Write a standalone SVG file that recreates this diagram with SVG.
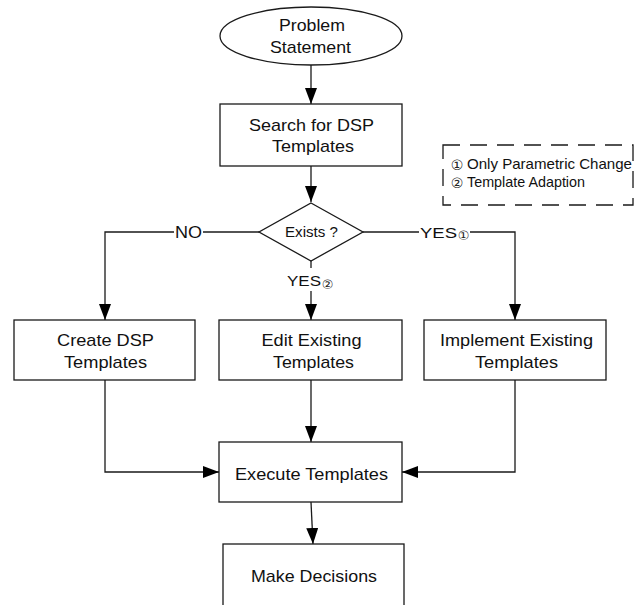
<svg xmlns="http://www.w3.org/2000/svg" width="641" height="605" viewBox="0 0 641 605">
<style>
.shape{fill:#fff;stroke:#1a1a1a;stroke-width:1.3}
.t{font-family:"Liberation Sans",Arial,sans-serif;font-size:17px;fill:#111;text-anchor:middle}
.s{font-family:"Liberation Sans",Arial,sans-serif;font-size:15px;fill:#111}
.c{font-family:"DejaVu Sans","Noto Sans CJK SC",sans-serif;fill:#222;text-anchor:middle}
.ln{fill:none;stroke:#1a1a1a;stroke-width:1.3}
</style>
<defs>
<marker id="ah" markerUnits="userSpaceOnUse" markerWidth="17" markerHeight="13" refX="16" refY="6" orient="auto">
<path d="M0,0 L16,6 L0,12 z" fill="#000"/>
</marker>
</defs>
<rect width="641" height="605" fill="#fff"/>
<g id="connectors">
<line class="ln" x1="311" y1="65" x2="311" y2="104" marker-end="url(#ah)"/>
<line class="ln" x1="311" y1="166" x2="311" y2="202" marker-end="url(#ah)"/>
<line class="ln" x1="259" y1="232" x2="203" y2="232"/>
<polyline class="ln" points="174,232 105,232 105,320" marker-end="url(#ah)"/>
<line class="ln" x1="363" y1="232" x2="419" y2="232"/>
<polyline class="ln" points="470,232 515,232 515,320" marker-end="url(#ah)"/>
<line class="ln" x1="311" y1="260" x2="311" y2="268"/>
<line class="ln" x1="311" y1="291" x2="311" y2="320" marker-end="url(#ah)"/>
<polyline class="ln" points="105,380 105,472 219,472" marker-end="url(#ah)"/>
<line class="ln" x1="311" y1="380" x2="311" y2="442" marker-end="url(#ah)"/>
<polyline class="ln" points="515,380 515,472 402,472" marker-end="url(#ah)"/>
<line class="ln" x1="311" y1="502" x2="313" y2="544" marker-end="url(#ah)"/>
<text class="t" x="188.5" y="237.5" textLength="27" lengthAdjust="spacingAndGlyphs">NO</text>
<text class="s" x="420" y="237.5" font-size="16" textLength="37" lengthAdjust="spacingAndGlyphs">YES</text>
<text class="c" x="463.5" y="240" font-size="13">①</text>
<text class="s" x="287" y="286" font-size="16" textLength="34" lengthAdjust="spacingAndGlyphs">YES</text>
<text class="c" x="327.5" y="289" font-size="13">②</text>
</g>
<g id="problem">
<ellipse class="shape" cx="311" cy="36" rx="91" ry="29"/>
<text class="t" x="312" y="31" font-size="15.5" textLength="66" lengthAdjust="spacingAndGlyphs">Problem</text>
<text class="t" x="310.5" y="53" font-size="15.5" textLength="81" lengthAdjust="spacingAndGlyphs">Statement</text>
</g>
<g id="search">
<rect class="shape" x="220" y="104" width="182" height="62"/>
<text class="t" x="311.5" y="131" textLength="125" lengthAdjust="spacingAndGlyphs">Search for DSP</text>
<text class="t" x="313" y="152" textLength="82" lengthAdjust="spacingAndGlyphs">Templates</text>
</g>
<g id="legend">
<rect x="443" y="145" width="190" height="60" fill="none" stroke="#1a1a1a" stroke-width="1.3" stroke-dasharray="17 10"/>
<text class="c" x="457" y="170" font-size="14">①</text>
<text class="s" x="467" y="169" font-size="12" textLength="165" lengthAdjust="spacingAndGlyphs">Only Parametric Change</text>
<text class="c" x="457" y="188" font-size="14">②</text>
<text class="s" x="467" y="187" font-size="12" textLength="118" lengthAdjust="spacingAndGlyphs">Template Adaption</text>
</g>
<g id="exists">
<polygon class="shape" points="311,203 363,232 311,261 259,232"/>
<text class="s" x="285" y="237" font-size="14" textLength="53" lengthAdjust="spacingAndGlyphs">Exists ?</text>
</g>
<g id="create">
<rect class="shape" x="14" y="320" width="181" height="60"/>
<text class="t" x="105.5" y="346" textLength="97" lengthAdjust="spacingAndGlyphs">Create DSP</text>
<text class="t" x="105.5" y="368" textLength="83" lengthAdjust="spacingAndGlyphs">Templates</text>
</g>
<g id="edit">
<rect class="shape" x="219" y="320" width="183" height="60"/>
<text class="t" x="311.5" y="346" textLength="100" lengthAdjust="spacingAndGlyphs">Edit Existing</text>
<text class="t" x="313.5" y="368" textLength="81" lengthAdjust="spacingAndGlyphs">Templates</text>
</g>
<g id="implement">
<rect class="shape" x="424" y="320" width="182" height="60"/>
<text class="t" x="516.5" y="346" textLength="153" lengthAdjust="spacingAndGlyphs">Implement Existing</text>
<text class="t" x="516.5" y="368" textLength="83" lengthAdjust="spacingAndGlyphs">Templates</text>
</g>
<g id="execute">
<rect class="shape" x="219" y="442" width="183" height="60"/>
<text class="t" x="311.5" y="480" textLength="153" lengthAdjust="spacingAndGlyphs">Execute Templates</text>
</g>
<g id="decisions">
<rect class="shape" x="223" y="544" width="181" height="70"/>
<text class="t" x="314" y="582" textLength="126" lengthAdjust="spacingAndGlyphs">Make Decisions</text>
</g>
</svg>
